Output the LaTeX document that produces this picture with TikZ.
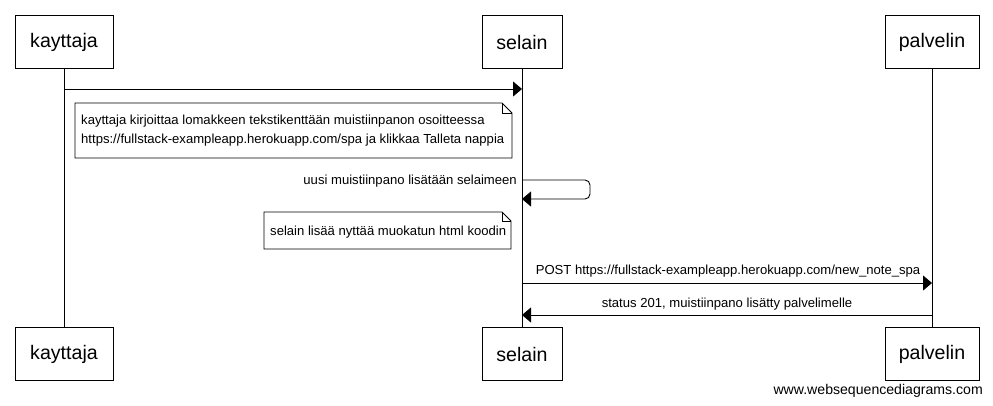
\documentclass[tikz,border=0pt]{standalone}
\usepackage{fontspec}
\setmainfont{Liberation Sans}
\usetikzlibrary{arrows.meta}
\begin{document}
\begin{tikzpicture}[x=1pt,y=-1pt,
  actor/.style={draw,line width=0.9pt,inner sep=0pt,font=\fontsize{19.6}{22}\selectfont},
  lifeline/.style={line width=0.9pt},
  msg/.style={line width=0.9pt,-{Triangle[length=9pt,width=15pt]}},
  lbl/.style={font=\fontsize{13.1}{15}\selectfont,inner sep=0pt},
  wmark/.style={font=\fontsize{14.1}{16}\selectfont,inner sep=0pt},
  notebox/.style={line width=0.9pt}]
\useasboundingbox (0,0) rectangle (993,405);
% actor boxes
\node[actor,minimum width=98pt,minimum height=53pt] (k1) at (64,42) {kayttaja};
\node[actor,minimum width=80pt,minimum height=53pt] (s1) at (522,42) {selain};
\node[actor,minimum width=94pt,minimum height=53pt] (p1) at (932,42) {palvelin};
\node[actor,minimum width=98pt,minimum height=53pt] (k2) at (64,354) {kayttaja};
\node[actor,minimum width=80pt,minimum height=53pt] (s2) at (522,354) {selain};
\node[actor,minimum width=94pt,minimum height=53pt] (p2) at (932,354) {palvelin};
% lifelines
\draw[lifeline] (k1.south) -- (k2.north);
\draw[lifeline] (s1.south) -- (s2.north);
\draw[lifeline] (p1.south) -- (p2.north);
% message 1
\coordinate (m1a) at (64,89);
\coordinate (m1b) at (522,89);
\draw[msg] (m1a) -- (m1b);
% note 1
\draw[notebox] (75,103) -- (502,103) -- (512,113) -- (512,158) -- (75,158) -- cycle;
\draw[notebox] (502,103) -- (502,113) -- (512,113);
\node[lbl,anchor=west] (n1a) at (81,121.5) {kayttaja kirjoittaa lomakkeen tekstikenttään muistiinpanon osoitteessa};
\node[lbl,anchor=west] (n1b) at (81,140.5) {https://fullstack-exampleapp.herokuapp.com/spa ja klikkaa Talleta nappia};
% self message
\coordinate (sa) at (522,180);
\coordinate (sb) at (522,199);
\draw[msg,rounded corners=5pt] (sa) -- (590,180) -- (590,199) -- (sb);
\node[lbl,anchor=east] (sl) at (517,181) {uusi muistiinpano lisätään selaimeen};
% note 2
\draw[notebox] (264,212) -- (502,212) -- (511,221) -- (511,249) -- (264,249) -- cycle;
\draw[notebox] (502,212) -- (502,221) -- (511,221);
\node[lbl,anchor=west] (n2) at (270,232) {selain lisää nyttää muokatun html koodin};
% POST
\coordinate (pa) at (522,283);
\coordinate (pb) at (932,283);
\draw[msg] (pa) -- (pb);
\node[lbl,anchor=south] (pl) at (728,277.5) {POST https://fullstack-exampleapp.herokuapp.com/new\_note\_spa};
% status
\coordinate (ra) at (932,315);
\coordinate (rb) at (522,315);
\draw[msg] (ra) -- (rb);
\node[lbl,anchor=south] (rl) at (727,310.5) {status 201, muistiinpano lisätty palvelimelle};
% watermark
\node[wmark,anchor=east] (wm) at (983,391) {www.websequencediagrams.com};
\end{tikzpicture}
\end{document}
